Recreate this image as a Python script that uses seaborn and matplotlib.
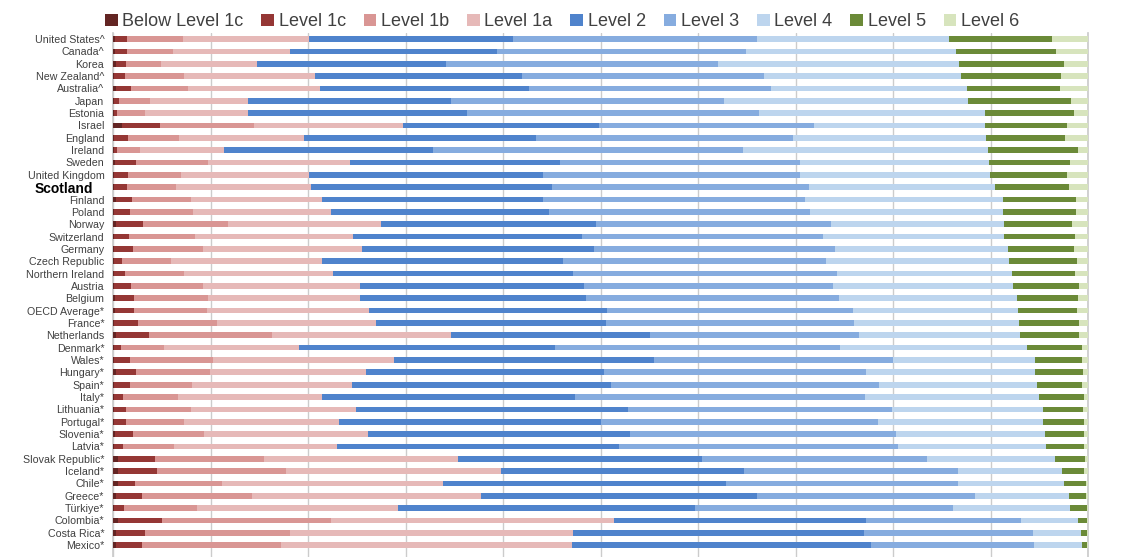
import numpy as np
import pandas as pd
import matplotlib
matplotlib.use("Agg")
import matplotlib.pyplot as plt
import matplotlib.transforms as mtransforms
from matplotlib.patches import Patch
import seaborn as sns

countries = ["United States^", "Canada^", "Korea", "New Zealand^", "Australia^", "Japan",
             "Estonia", "Israel", "England", "Ireland", "Sweden", "United Kingdom", "Scotland",
             "Finland", "Poland", "Norway", "Switzerland", "Germany", "Czech Republic",
             "Northern Ireland", "Austria", "Belgium", "OECD Average*", "France*", "Netherlands",
             "Denmark*", "Wales*", "Hungary*", "Spain*", "Italy*", "Lithuania*", "Portugal*",
             "Slovenia*", "Latvia*", "Slovak Republic*", "Iceland*", "Chile*", "Greece*",
             "Türkiye*", "Colombia*", "Costa Rica*", "Mexico*"]

levels = ["Below Level 1c", "Level 1c", "Level 1b", "Level 1a", "Level 2",
          "Level 3", "Level 4", "Level 5", "Level 6"]

# % of students at each level
below_1c = [0.2, 0.2, 0.3, 0.1, 0.3, 0.1, 0.1, 0.9, 0.1, 0.1, 0.2, 0.1, 0.1, 0.3, 0.1, 0.3, 0.1,
            0.1, 0.1, 0.1, 0.1, 0.2, 0.2, 0.1, 0.3, 0.1, 0.1, 0.3, 0.1, 0.1, 0.1, 0.1, 0.2, 0.1,
            0.5, 0.5, 0.5, 0.3, 0.1, 0.5, 0.3, 0.3]
level_1c = [1.2, 1.2, 1.0, 1.1, 1.5, 0.5, 0.3, 3.9, 1.4, 0.3, 2.1, 1.4, 1.3, 1.6, 1.6, 2.7, 1.5,
            1.9, 0.8, 1.1, 1.7, 1.9, 1.9, 2.4, 3.4, 0.7, 1.6, 2.0, 1.6, 0.9, 1.2, 1.2, 1.8, 0.9,
            3.8, 4.0, 1.7, 2.6, 1.0, 4.5, 3.0, 2.6]
level_1b = [5.7, 4.7, 3.6, 6.0, 5.9, 3.2, 2.9, 9.6, 5.2, 2.3, 7.4, 5.4, 5.0, 6.1, 6.5, 8.8, 6.8,
            7.2, 5.0, 6.0, 7.4, 7.6, 7.5, 8.1, 12.6, 4.4, 8.5, 7.6, 6.4, 5.6, 6.7, 6.0, 7.3, 5.2,
            11.2, 13.2, 8.9, 11.3, 7.5, 17.3, 14.8, 14.3]
level_1a = [13.0, 12.0, 9.8, 13.5, 13.5, 10.0, 10.5, 15.3, 12.9, 8.7, 14.6, 13.2, 13.9, 13.4,
            14.1, 15.7, 16.2, 16.3, 15.5, 15.3, 16.1, 15.6, 16.6, 16.3, 18.3, 13.8, 18.6, 16.0,
            16.4, 14.8, 16.9, 15.8, 16.8, 16.7, 19.9, 22.1, 22.7, 23.5, 20.6, 29.1, 29.0, 29.8]
level_2 = [20.9, 21.3, 19.4, 21.2, 21.4, 20.8, 22.5, 20.1, 23.7, 21.4, 21.5, 24.0, 24.7, 22.7,
           22.4, 22.0, 23.5, 23.8, 24.7, 24.6, 23.0, 23.2, 24.4, 23.6, 20.4, 26.3, 26.7, 24.4,
           26.5, 25.9, 27.9, 26.9, 26.9, 29.0, 25.0, 24.9, 29.0, 28.3, 30.5, 25.8, 29.9, 30.7]
level_3 = [25.0, 25.5, 27.9, 24.8, 24.9, 28.0, 29.9, 22.1, 26.4, 31.8, 24.6, 26.3, 26.3, 26.8,
           26.8, 24.1, 24.7, 24.7, 27.0, 27.1, 25.5, 25.9, 25.3, 25.5, 21.5, 29.2, 24.5, 26.9,
           27.5, 29.8, 27.1, 28.4, 27.3, 28.6, 23.1, 21.9, 23.8, 22.4, 26.4, 15.9, 17.3, 16.7]
level_4 = [19.7, 21.5, 24.7, 20.2, 20.1, 25.1, 23.2, 17.5, 19.8, 25.1, 19.4, 19.5, 19.1, 20.3,
           19.7, 17.7, 18.6, 17.8, 18.8, 18.0, 18.5, 18.3, 16.9, 16.9, 16.5, 19.2, 14.5, 17.3,
           16.2, 17.8, 15.4, 16.9, 15.3, 15.2, 13.1, 10.7, 10.9, 9.6, 12.0, 5.8, 4.9, 5.0]
level_5 = [10.6, 10.3, 10.8, 10.3, 9.5, 10.5, 9.1, 8.4, 8.1, 9.2, 8.3, 7.9, 7.6, 7.5, 7.5, 7.0,
           7.2, 6.7, 6.9, 6.4, 6.7, 6.2, 6.0, 6.1, 6.0, 5.6, 4.8, 5.0, 4.6, 4.7, 4.2, 4.3, 4.0,
           3.9, 3.1, 2.3, 2.3, 1.8, 1.8, 1.0, 0.7, 0.5]
level_6 = [3.7, 3.3, 2.5, 2.8, 2.9, 1.9, 1.5, 2.2, 2.4, 1.1, 1.9, 2.2, 2.0, 1.3, 1.3, 1.7, 1.4,
           1.5, 1.2, 1.4, 1.0, 1.1, 1.2, 1.0, 1.0, 0.7, 0.7, 0.5, 0.7, 0.4, 0.5, 0.4, 0.4, 0.4,
           0.3, 0.4, 0.2, 0.2, 0.1, 0.1, 0.1, 0.1]

colours = ["#632523", "#953735", "#d99694", "#e6b9b8", "#4f83cc",
           "#86acdf", "#bdd5ee", "#6b8a38", "#d7e4bd"]

df = pd.DataFrame({"country": countries})
for name, vals in zip(levels, [below_1c, level_1c, level_1b, level_1a, level_2,
                               level_3, level_4, level_5, level_6]):
    df[name] = vals
# cumulative share so bars can be layered from the right
cum = df[levels].cumsum(axis=1)
cum["country"] = df["country"]

sns.set_theme(style="white")
plt.rcParams["font.family"] = ["Liberation Sans", "DejaVu Sans"]

fig = plt.figure(figsize=(11.22, 5.57), dpi=100)
ax = fig.add_axes([0.101, 0.0, 0.869, 0.941])

for name, col in reversed(list(zip(levels, colours))):
    sns.barplot(data=cum, x=name, y="country", color=col, orient="h",
                width=0.46, errorbar=None, saturation=1, linewidth=0,
                ax=ax, zorder=3)

ax.set_xlim(0, 100)
ax.set_ylim(41.96, -0.5)
ax.set_xticks(np.arange(0, 101, 10))
ax.set_xticklabels([])
ax.set_xlabel("")
ax.set_ylabel("")
ax.grid(axis="x", color="#cccccc", linewidth=1, zorder=0)
ax.grid(axis="y", visible=False)
for s in ["top", "bottom"]:
    ax.spines[s].set_visible(False)
for s in ["left", "right"]:
    ax.spines[s].set_color("#cccccc")
ax.tick_params(axis="both", length=0)
ax.tick_params(axis="y", pad=6.5, labelsize=7.7, labelcolor="#404040")

for lbl in ax.get_yticklabels():
    if lbl.get_text() == "Scotland":
        lbl.set_fontweight("bold")
        lbl.set_fontsize(10)
        lbl.set_color("black")
        lbl.set_transform(lbl.get_transform() +
                          mtransforms.ScaledTranslation(-0.11, 0, fig.dpi_scale_trans))

handles = [Patch(facecolor=c, edgecolor="none", label=l) for l, c in zip(levels, colours)]
fig.legend(handles=handles, loc="center", bbox_to_anchor=(0.501, 0.961), ncol=9,
           frameon=False, fontsize=13, labelcolor="#404040", handlelength=0.7,
           handleheight=0.7, handletextpad=0.25, columnspacing=1.0)

fig.savefig("out.png", dpi=100)
